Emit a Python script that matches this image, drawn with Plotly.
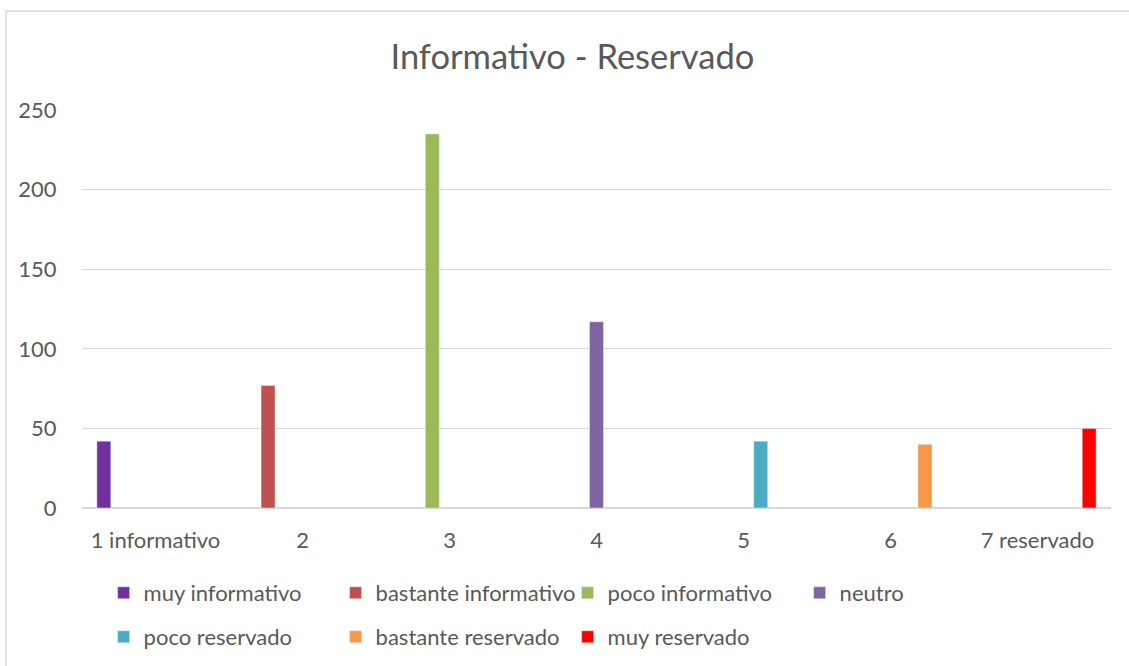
import plotly.graph_objects as go

categories = ["1 informativo", "2", "3", "4", "5", "6", "7 reservado"]
series_names = ["muy informativo", "bastante informativo", "poco informativo", "neutro",
                "poco reservado", "bastante reservado", "muy reservado"]
values = [42, 77, 235, 117, 42, 40, 50]
colors = ["#7030A0", "#C0504D", "#9BBB59", "#8064A2", "#4BACC6", "#F79646", "#FF0000"]

FONT = "Lato"
TXT = "#595959"

fig = go.Figure()
for i, (name, v, c) in enumerate(zip(series_names, values, colors)):
    ys = [v if j == i else None for j in range(len(categories))]
    fig.add_trace(go.Bar(
        x=categories, y=ys, name=name, marker_color=c,
        legend="legend" if i < 4 else "legend2",
    ))

fig.update_layout(
    width=1129, height=666,
    margin=dict(l=82, r=18, t=110, b=158, autoexpand=False),
    paper_bgcolor="white", plot_bgcolor="white",
    barmode="group", bargap=0.18, bargroupgap=0.19,
    font=dict(family=FONT, color=TXT, size=22),
    title=dict(text="Informativo - Reservado", x=0.507, xanchor="center",
               y=0.915, yanchor="middle", xref="container", yref="container",
               font=dict(size=34.5, color=TXT, family=FONT)),
    legend=dict(orientation="h", x=0.021, xanchor="left", y=-0.2136, yanchor="middle",
                entrywidth=187, entrywidthmode="pixels", font=dict(size=22, color=TXT),
                itemclick=False, bgcolor="rgba(0,0,0,0)"),
    legend2=dict(orientation="h", x=0.021, xanchor="left", y=-0.324, yanchor="middle",
                 entrywidth=187, entrywidthmode="pixels", font=dict(size=22, color=TXT),
                 itemclick=False, bgcolor="rgba(0,0,0,0)"),
    showlegend=True,
)
fig.update_xaxes(type="category", categoryorder="array", categoryarray=categories,
                 showgrid=False, showline=False, ticks="outside", ticklen=13,
                 tickcolor="rgba(0,0,0,0)", tickfont=dict(size=22, color=TXT),
                 fixedrange=True)
fig.update_yaxes(range=[0, 250], dtick=50, showgrid=True, gridcolor="#d9d9d9", gridwidth=1,
                 zeroline=True, zerolinecolor="#d9d9d9", zerolinewidth=1.5,
                 showline=False, ticks="outside", ticklen=20, tickcolor="rgba(0,0,0,0)",
                 tickfont=dict(size=22, color=TXT), fixedrange=True)

# chart area border
fig.add_shape(type="rect", xref="paper", yref="paper",
              x0=(6 - 82) / 1029, x1=1.1, y0=(508 - 700) / 398, y1=(508 - 11) / 398,
              line=dict(color="#d9d9d9", width=1.5), fillcolor="rgba(0,0,0,0)", layer="below")

fig.write_html("out.html")
